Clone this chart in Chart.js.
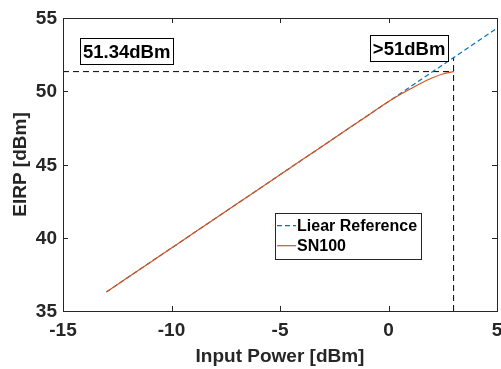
<!DOCTYPE html>
<html>
<head>
<meta charset="utf-8">
<script src="https://cdn.jsdelivr.net/npm/chart.js@4/dist/chart.umd.min.js"></script>
<style>
  html, body { margin: 0; padding: 0; background: #fff; }
  #wrap { width: 501px; height: 369px; }
</style>
</head>
<body>
<div id="wrap"><canvas id="chart1"></canvas></div>
<script>
// input power [dBm] and EIRP [dBm]
const sn100X = [-13, -12, -11, -10, -9, -8, -7, -6, -5, -4, -3, -2, -1, 0, 0.5, 1, 1.5, 2, 2.5, 3];
const sn100Y = [36.3, 37.3, 38.3, 39.3, 40.3, 41.3, 42.3, 43.3, 44.3, 45.3, 46.3, 47.3, 48.3, 49.3, 49.75, 50.15, 50.55, 50.9, 51.18, 51.34];
const refX = [-13, 5];
const refY = [36.3, 54.3];
const satLevel = 51.34;
const satInput = 3;
const xTicks = [-15, -10, -5, 0, 5];
const yTicks = [35, 40, 45, 50, 55];

const axisColor = '#262626';
const font = '"Liberation Sans", Arial, sans-serif';

function pts(xs, ys) {
    return xs.map((x, i) => ({ x: x, y: ys[i] }));
}

function textBox(ctx, text, px, py) {
    ctx.font = 'bold 18.5px ' + font;
    const w = ctx.measureText(text).width;
    ctx.fillStyle = '#fff';
    ctx.fillRect(px, py, w + 6, 26);
    ctx.strokeStyle = '#000';
    ctx.lineWidth = 1;
    ctx.strokeRect(Math.round(px) + 0.5, Math.round(py) + 0.5, Math.round(w + 6), 26);
    ctx.fillStyle = '#000';
    ctx.textAlign = 'left';
    ctx.textBaseline = 'alphabetic';
    ctx.fillText(text, px + 3, py + 20);
}

const matlabAxes = {
    id: 'matlabAxes',
    afterDatasetsDraw(chart) {
        const ctx = chart.ctx;
        const a = chart.chartArea;
        const xs = chart.scales.x;
        const ys = chart.scales.y;
        ctx.save();

        // box
        ctx.strokeStyle = axisColor;
        ctx.lineWidth = 1;
        ctx.strokeRect(a.left + 0.5, a.top + 0.5, a.right - a.left, a.bottom - a.top);

        // ticks inside, all four sides
        ctx.beginPath();
        xTicks.forEach(v => {
            const p = Math.round(xs.getPixelForValue(v)) + 0.5;
            ctx.moveTo(p, a.bottom); ctx.lineTo(p, a.bottom - 5);
            ctx.moveTo(p, a.top); ctx.lineTo(p, a.top + 5);
        });
        yTicks.forEach(v => {
            const p = Math.round(ys.getPixelForValue(v)) + 0.5;
            ctx.moveTo(a.left, p); ctx.lineTo(a.left + 5, p);
            ctx.moveTo(a.right, p); ctx.lineTo(a.right - 5, p);
        });
        ctx.stroke();

        // tick labels
        ctx.fillStyle = axisColor;
        ctx.font = 'bold 19px ' + font;
        ctx.textAlign = 'center';
        ctx.textBaseline = 'alphabetic';
        xTicks.forEach(v => ctx.fillText(String(v), xs.getPixelForValue(v), a.bottom + 25));
        ctx.textAlign = 'right';
        ctx.textBaseline = 'middle';
        yTicks.forEach(v => ctx.fillText(String(v), a.left - 6, ys.getPixelForValue(v) + 1));

        // axis titles
        ctx.textAlign = 'center';
        ctx.textBaseline = 'middle';
        ctx.fillText('Input Power [dBm]', (a.left + a.right) / 2, 357);
        ctx.save();
        ctx.translate(21, (a.top + a.bottom) / 2);
        ctx.rotate(-Math.PI / 2);
        ctx.fillText('EIRP [dBm]', 0, 0);
        ctx.restore();

        // annotation boxes
        textBox(ctx, satLevel.toFixed(2) + 'dBm', xs.getPixelForValue(-14.22), ys.getPixelForValue(53.64));
        textBox(ctx, '>51dBm', xs.getPixelForValue(-0.86), ys.getPixelForValue(53.84));

        // legend
        const lx = xs.getPixelForValue(-5.23);
        const ly = ys.getPixelForValue(41.71);
        const lw = xs.getPixelForValue(1.5) - lx;
        const lh = ys.getPixelForValue(38.57) - ly;
        ctx.fillStyle = '#fff';
        ctx.fillRect(lx, ly, lw, lh);
        ctx.strokeStyle = axisColor;
        ctx.lineWidth = 1;
        ctx.strokeRect(Math.round(lx) + 0.5, Math.round(ly) + 0.5, Math.round(lw), Math.round(lh));
        ctx.lineWidth = 1.2;
        ctx.strokeStyle = '#0072BD';
        ctx.setLineDash([5, 3]);
        ctx.beginPath();
        ctx.moveTo(lx + 2, ly + 13); ctx.lineTo(lx + 21, ly + 13);
        ctx.stroke();
        ctx.setLineDash([]);
        ctx.strokeStyle = '#D95319';
        ctx.beginPath();
        ctx.moveTo(lx + 2, ly + 33); ctx.lineTo(lx + 21, ly + 33);
        ctx.stroke();
        ctx.fillStyle = '#000';
        ctx.font = 'bold 16px ' + font;
        ctx.textAlign = 'left';
        ctx.textBaseline = 'middle';
        ctx.fillText('Liear Reference', lx + 22, ly + 14);
        ctx.fillText('SN100', lx + 22, ly + 34);

        ctx.restore();
    }
};

new Chart(document.getElementById('chart1'), {
    type: 'scatter',
    data: {
        datasets: [
            {
                label: 'SN100',
                data: pts(sn100X, sn100Y),
                showLine: true,
                borderColor: '#D95319',
                borderWidth: 1.2,
                pointRadius: 0,
                cubicInterpolationMode: 'monotone',
                order: 1
            },
            {
                label: 'Liear Reference',
                data: pts(refX, refY),
                showLine: true,
                borderColor: '#0072BD',
                borderWidth: 1.2,
                borderDash: [5, 3],
                pointRadius: 0,
                order: 2
            },
            {
                label: 'level',
                data: [{ x: -15, y: satLevel }, { x: satInput, y: satLevel }],
                showLine: true,
                borderColor: '#000',
                borderWidth: 1,
                borderDash: [6, 4],
                pointRadius: 0,
                order: 3
            },
            {
                label: 'input',
                data: [{ x: satInput, y: 35 }, { x: satInput, y: 52.3 }],
                showLine: true,
                borderColor: '#000',
                borderWidth: 1,
                borderDash: [6, 4],
                pointRadius: 0,
                order: 3
            }
        ]
    },
    options: {
        responsive: true,
        maintainAspectRatio: false,
        animation: false,
        layout: { padding: { top: 18, right: 4, left: 0, bottom: 0 } },
        plugins: {
            legend: { display: false },
            tooltip: { enabled: false }
        },
        scales: {
            x: {
                type: 'linear',
                min: -15,
                max: 5,
                ticks: { display: false },
                grid: { display: false },
                border: { display: false },
                afterFit(scale) { scale.height = 58; }
            },
            y: {
                type: 'linear',
                min: 35,
                max: 55,
                ticks: { display: false },
                grid: { display: false },
                border: { display: false },
                afterFit(scale) { scale.width = 63; }
            }
        }
    },
    plugins: [matlabAxes]
});
</script>
</body>
</html>
